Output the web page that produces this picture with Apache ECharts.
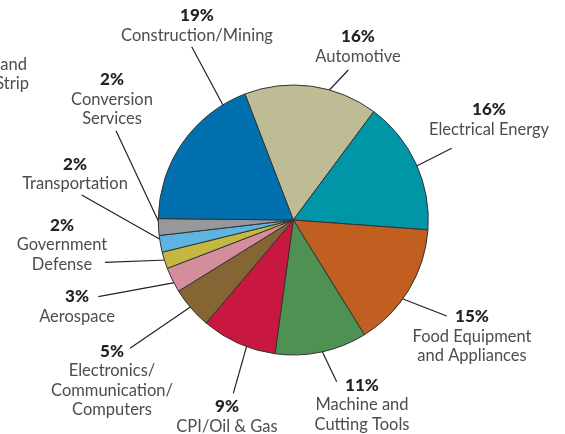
<!DOCTYPE html>
<html><head><meta charset="utf-8">
<script src="https://cdn.jsdelivr.net/npm/echarts@6/dist/echarts.min.js"></script>
<style>html,body{margin:0;padding:0;background:#fff}#c{width:565px;height:434px}</style>
</head><body><div id="c"></div>
<script>
const categories = ['Automotive','Electrical Energy','Food Equipment\nand Appliances','Machine and\nCutting Tools','CPI/Oil & Gas','Electronics/\nCommunication/\nComputers','Aerospace','Government\nDefense','Transportation','Conversion\nServices','Construction/Mining'];
const values = [16,16,15,11,9,5,3,2,2,2,19];
const colors = ['#bebc94','#0096a8','#c05f20','#4f9053','#c8183f','#846533','#d38d9b','#c4b843','#5db4e1','#97989b','#0070ae'];
// label block centres
const labelPos = [[358,46.5],[489,119.5],[472,336.5],[362,404.7],[227,416.5],[112,380.5],[77,306.7],[62,244.7],[75,174],[112,99.3],[197,25.5]];
// leader lines: [inside slice point, outer end]
const leaders = [
  [[320,100],[348.3,70]],
  [[403.3,172.7],[451.7,148.3]],
  [[388.3,293.3],[446.7,316]],
  [[316.7,340],[336.7,381.7]],
  [[251.7,328.3],[233.3,393.3]],
  [[193.3,305],[130,348.3]],
  [[180,281.7],[98.3,296.7]],
  [[166.7,260],[105,262.3]],
  [[164.3,241.7],[81.7,195]],
  [[161.7,228.3],[116,130.7]],
  [[228.3,115],[191.7,46.7]]
];
const chart = echarts.init(document.getElementById('c'), null, {renderer:'canvas'});
chart.setOption({
  animation:false,
  backgroundColor:'#fff',
  graphic:[
    {type:'text', x:27, y:65, style:{text:'and', font:'16.5px Lato', fill:'#4d4d4d', align:'right', verticalAlign:'middle'}},
    {type:'text', x:29, y:84, style:{text:'Strip', font:'16.5px Lato', fill:'#4d4d4d', align:'right', verticalAlign:'middle'}}
  ],
  series:[{
    type:'pie',
    center:[293.3,220],
    radius:135,
    startAngle:111,
    clockwise:true,
    avoidLabelOverlap:false,
    data: values.map((v,i)=>({name:categories[i], value:v, itemStyle:{color:colors[i]}})),
    itemStyle:{borderColor:'#333',borderWidth:1},
    emphasis:{disabled:true},
    label:{
      show:true, position:'outside',
      formatter:p=>'{p|'+p.value+'%}\n{n|'+p.name+'}',
      rich:{
        p:{fontFamily:'Lato',fontWeight:900,fontSize:17,color:'#222',lineHeight:19.5,align:'center'},
        n:{fontFamily:'Lato',fontWeight:400,fontSize:16.5,color:'#4d4d4d',lineHeight:19.5,align:'center'}
      }
    },
    labelLine:{show:true, lineStyle:{color:'#222',width:1.2}},
    labelLayout:function(params){
      const i = params.dataIndex;
      return {x:labelPos[i][0], y:labelPos[i][1], align:'center', verticalAlign:'middle',
        labelLinePoints:[leaders[i][0], leaders[i][0], leaders[i][1]]};
    }
  }]
});
</script></body></html>
